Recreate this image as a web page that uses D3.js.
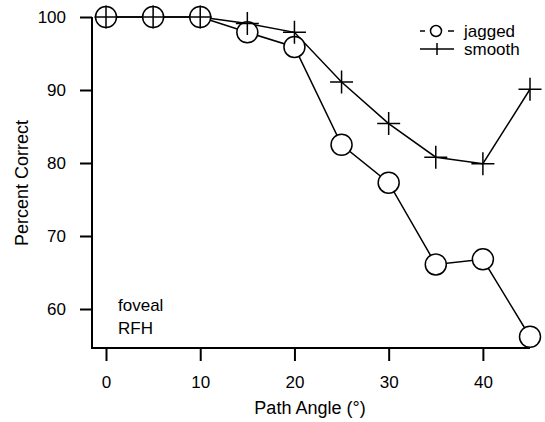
<!DOCTYPE html>
<html>
<head>
<meta charset="utf-8">
<script src="https://cdn.jsdelivr.net/npm/d3@7"></script>
<style>
  body { margin: 0; background: #fff; }
  text { font-family: "Liberation Sans", Arial, sans-serif; fill: #000; }
</style>
</head>
<body>
<div id="chart"></div>
<script>
var angles = [0, 5, 10, 15, 20, 25, 30, 35, 40, 45];
var jagged = [100, 100, 100, 97.9, 95.9, 82.5, 77.3, 66.1, 66.8, 56.2];
var smooth = [100, 100, 100, 99.1, 97.9, 91.1, 85.4, 80.8, 79.9, 90.1];
var xTicks = [0, 10, 20, 30, 40];
var yTicks = [60, 70, 80, 90, 100];

var svgWidth = 545;
var svgHeight = 422;
var fontSize = "17px";
var titleSize = "18px";

var svg = d3.select("#chart")
  .append("svg")
  .attr("width", svgWidth)
  .attr("height", svgHeight);

// scales
var xScale = d3.scaleLinear().domain([0, 45]).range([106, 530]);
var yScale = d3.scaleLinear().domain([60, 100]).range([309, 17]);
var axisY = 348;
var axisX = 92;

// axes
var bottomAxis = d3.axisBottom(xScale).tickValues(xTicks).tickSize(13).tickSizeOuter(0).tickPadding(15);
var leftAxis = d3.axisLeft(yScale).tickValues(yTicks).tickSize(12).tickSizeOuter(0).tickPadding(14);

var xg = svg.append("g")
  .attr("transform", `translate(0, ${axisY})`)
  .call(bottomAxis);
var yg = svg.append("g")
  .attr("transform", `translate(${axisX}, 0)`)
  .call(leftAxis);

[xg, yg].forEach(function(g) {
  g.select(".domain").remove();
  g.selectAll(".tick line").attr("stroke", "#000").attr("stroke-width", 2);
  g.selectAll(".tick text").style("font-size", fontSize).attr("fill", "#000");
});

// L-shaped frame
svg.append("line")
  .attr("x1", axisX).attr("x2", axisX)
  .attr("y1", yScale(100)).attr("y2", axisY + 1)
  .attr("stroke", "#000").attr("stroke-width", 2);
svg.append("line")
  .attr("x1", axisX).attr("x2", xScale(45))
  .attr("y1", axisY).attr("y2", axisY)
  .attr("stroke", "#000").attr("stroke-width", 2);

// axis titles
svg.append("text")
  .attr("x", 310).attr("y", 414)
  .attr("text-anchor", "middle")
  .style("font-size", titleSize)
  .text("Path Angle (°)");

svg.append("text")
  .attr("transform", `translate(28, 183) rotate(-90)`)
  .attr("text-anchor", "middle")
  .style("font-size", titleSize)
  .text("Percent Correct");

// series
var line = d3.line()
  .x(function(d, i) { return xScale(angles[i]); })
  .y(function(d) { return yScale(d); });

svg.append("path")
  .datum(jagged)
  .attr("d", line)
  .attr("fill", "none")
  .attr("stroke", "#000")
  .attr("stroke-width", 1.5);

svg.append("path")
  .datum(smooth)
  .attr("d", line)
  .attr("fill", "none")
  .attr("stroke", "#000")
  .attr("stroke-width", 1.5);

svg.selectAll("circle.jag")
  .data(jagged)
  .enter()
  .append("circle")
  .attr("class", "jag")
  .attr("cx", function(d, i) { return xScale(angles[i]); })
  .attr("cy", function(d) { return yScale(d); })
  .attr("r", 10.5)
  .attr("fill", "#fff")
  .attr("stroke", "#000")
  .attr("stroke-width", 1.5);

var plusSize = 11.5;
svg.selectAll("path.plus")
  .data(smooth)
  .enter()
  .append("path")
  .attr("class", "plus")
  .attr("d", function(d, i) {
    var cx = xScale(angles[i]), cy = yScale(d);
    return `M${cx - plusSize},${cy}H${cx + plusSize}M${cx},${cy - plusSize}V${cy + plusSize}`;
  })
  .attr("fill", "none")
  .attr("stroke", "#000")
  .attr("stroke-width", 1.5);

// legend
var legend = svg.append("g");
legend.append("line")
  .attr("x1", 420).attr("x2", 425).attr("y1", 31).attr("y2", 31)
  .attr("stroke", "#000").attr("stroke-width", 1.5);
legend.append("line")
  .attr("x1", 448).attr("x2", 454).attr("y1", 31).attr("y2", 31)
  .attr("stroke", "#000").attr("stroke-width", 1.5);
legend.append("circle")
  .attr("cx", 436).attr("cy", 31).attr("r", 5.5)
  .attr("fill", "#fff").attr("stroke", "#000").attr("stroke-width", 1.5);
legend.append("line")
  .attr("x1", 420).attr("x2", 454).attr("y1", 49).attr("y2", 49)
  .attr("stroke", "#000").attr("stroke-width", 1.5);
legend.append("line")
  .attr("x1", 437).attr("x2", 437).attr("y1", 43).attr("y2", 55)
  .attr("stroke", "#000").attr("stroke-width", 1.5);
legend.append("text")
  .attr("x", 464).attr("y", 37)
  .style("font-size", fontSize)
  .text("jagged");
legend.append("text")
  .attr("x", 464).attr("y", 55)
  .style("font-size", fontSize)
  .text("smooth");

// annotation
svg.append("text")
  .attr("x", 118).attr("y", 311)
  .style("font-size", fontSize)
  .text("foveal");
svg.append("text")
  .attr("x", 118).attr("y", 334)
  .style("font-size", fontSize)
  .text("RFH");
</script>
</body>
</html>
